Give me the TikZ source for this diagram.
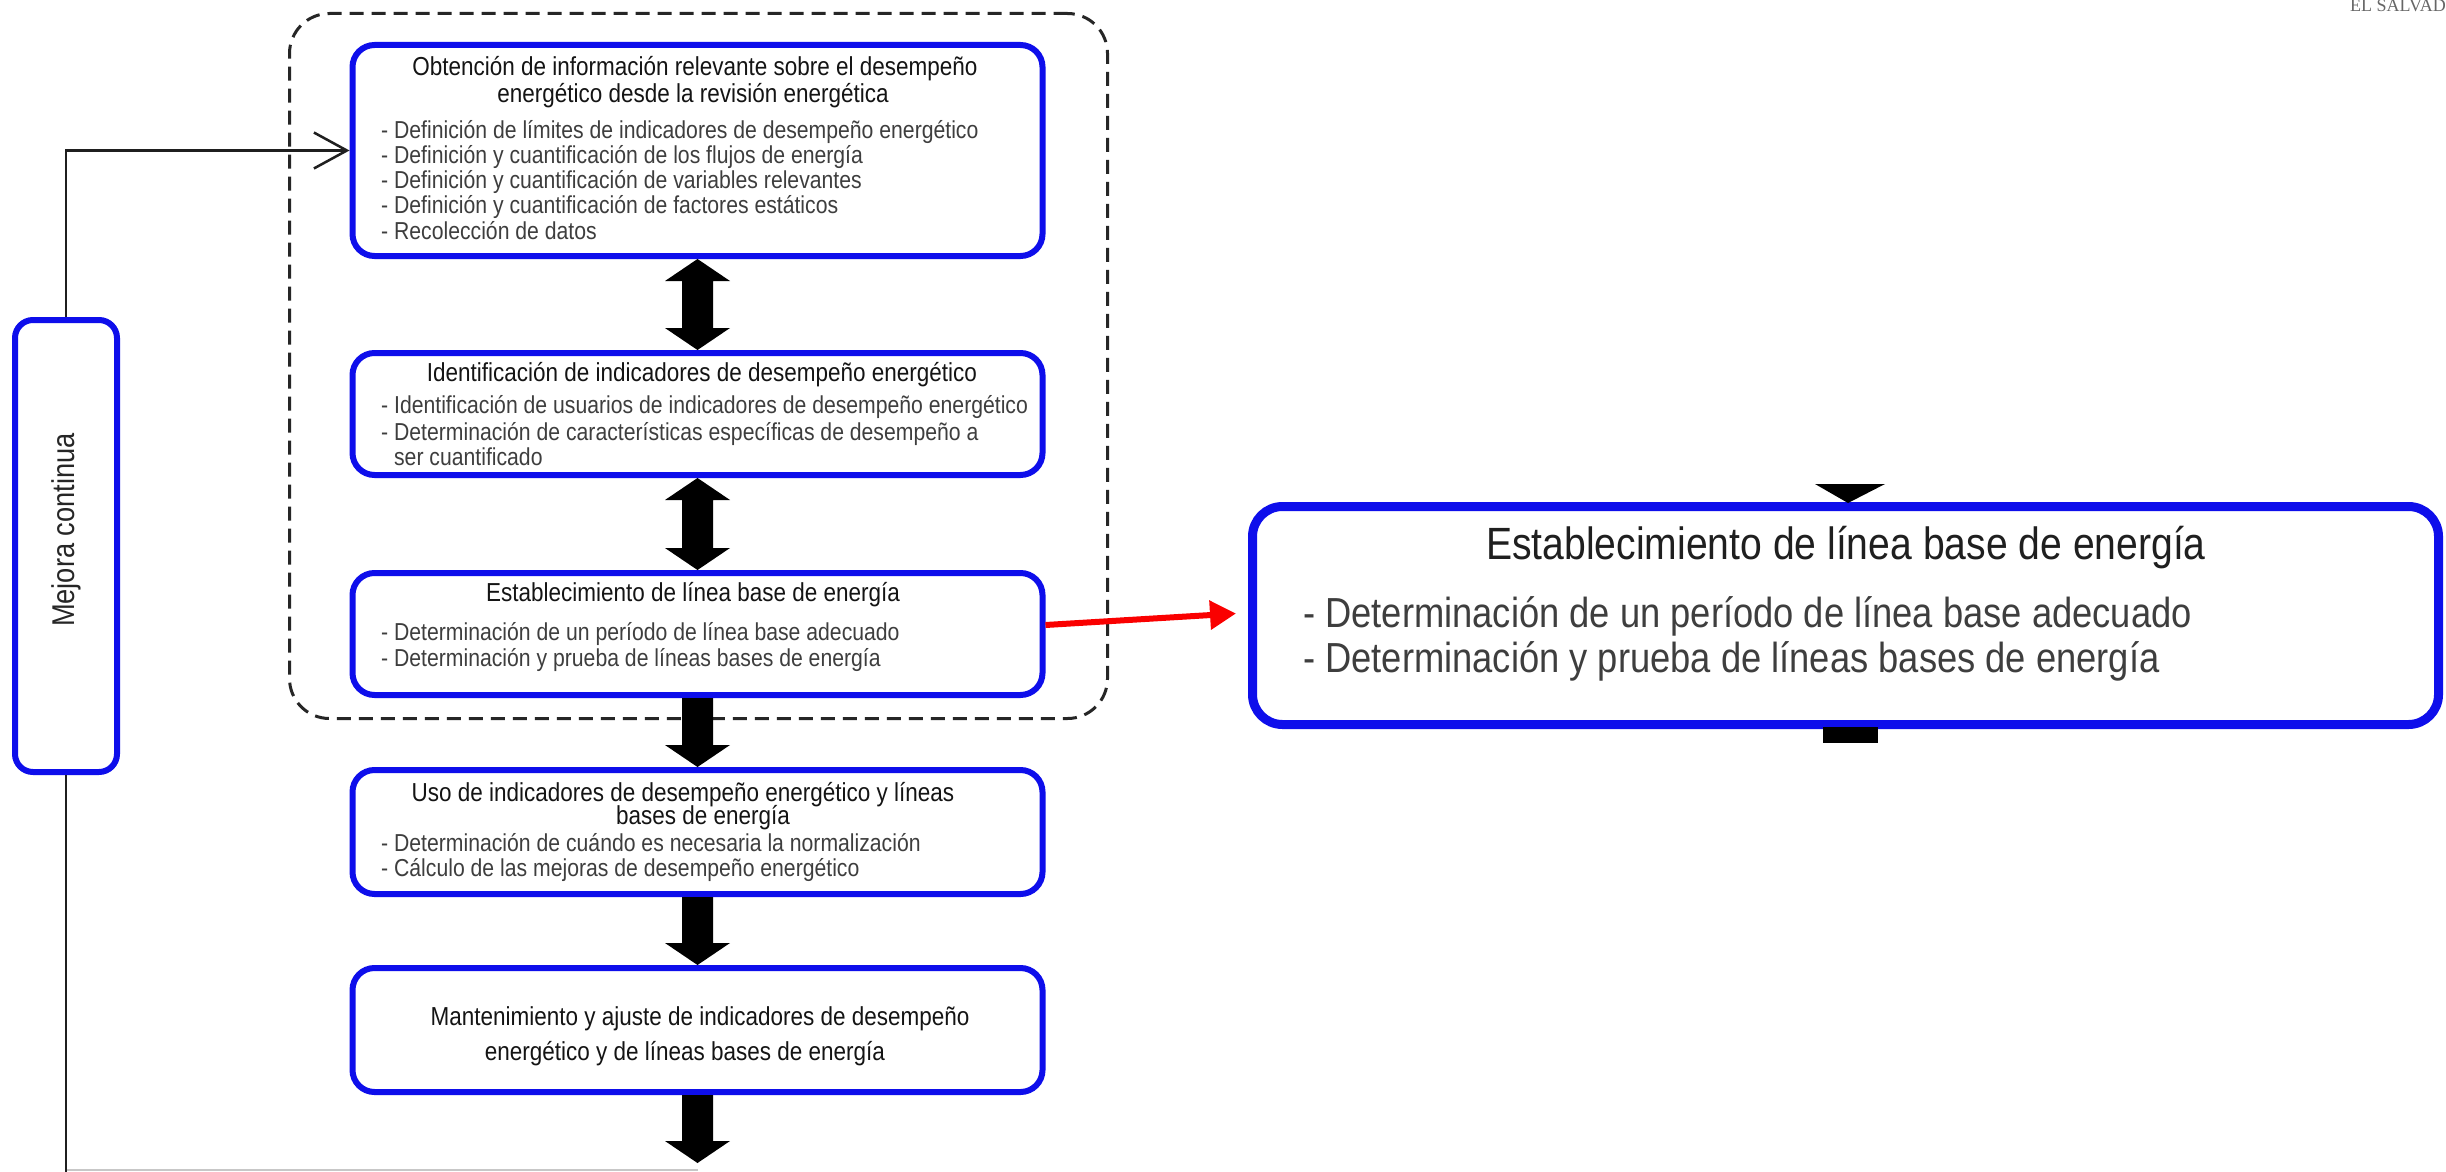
\documentclass[tikz,border=0pt]{standalone}
\usepackage{fontspec}
\setmainfont{Liberation Sans}[FakeStretch=0.865]
\newfontfamily\elfont{Liberation Serif}
\usetikzlibrary{arrows.meta,calc}
\definecolor{boxblue}{RGB}{14,14,235}
\definecolor{bultxt}{RGB}{62,62,62}
\definecolor{redarr}{RGB}{250,0,0}
\newcommand\dblblock[2]{%
  \fill[black] let \p1=(#1.south), \p2=(#2.north) in
   (\x1,\y1) -- (\x1+32.5pt,\y1-22pt) -- (\x1+15.5pt,\y1-22pt) -- (\x1+15.5pt,\y2+22pt)
   -- (\x1+32.5pt,\y2+22pt) -- (\x1,\y2) -- (\x1-32.5pt,\y2+22pt) -- (\x1-15.5pt,\y2+22pt)
   -- (\x1-15.5pt,\y1-22pt) -- (\x1-32.5pt,\y1-22pt) -- cycle;}
\newcommand\oneblock[2]{%
  \fill[black] let \p1=(#1), \p2=(#2) in
   (\x1-15.5pt,\y1) -- (\x1+15.5pt,\y1) -- (\x1+15.5pt,\y2+22pt) -- (\x1+32.5pt,\y2+22pt)
   -- (\x1,\y2) -- (\x1-32.5pt,\y2+22pt) -- (\x1-15.5pt,\y2+22pt) -- cycle;}
\begin{document}
\begin{tikzpicture}[x=1pt,y=-1pt,
  stepbox/.style={draw=boxblue, line width=6pt, rounded corners=22pt, minimum width=690pt, inner sep=0pt, fill=white},
  ttl/.style={inner sep=0pt, anchor=base, font=\fontsize{26}{28}\selectfont, text=black!92},
  bul/.style={inner sep=0pt, anchor=base west, font=\fontsize{24.5}{26}\selectfont, text=bultxt},
  bigttl/.style={inner sep=0pt, anchor=base, font=\fontsize{45.2}{47}\selectfont, text=black!88},
  bigbul/.style={inner sep=0pt, anchor=base west, font=\fontsize{42}{44}\selectfont, text=bultxt},
  conn/.style={draw=black!88, line width=2.5pt},
]
\useasboundingbox (0,0) rectangle (2446,1172);
\fill[white] (0,0) rectangle (2446,1172);

% dashed group
\node[draw=black!85, line width=3pt, dash pattern=on 14pt off 8pt, rounded corners=40pt,
      minimum width=818pt, minimum height=705pt, inner sep=0pt] (grp) at (698.5,366) {};

% boxes
\node[stepbox, minimum height=211pt] (b1) at (697.5,150.5) {};
\node[stepbox, minimum height=122pt] (b2) at (697.5,414) {};
\node[stepbox, minimum height=122pt] (b3) at (697.5,634) {};
\node[stepbox, minimum height=124pt] (b4) at (697.5,832) {};
\node[stepbox, minimum height=124pt] (b5) at (697.5,1030) {};

% Mejora continua
\node[draw=boxblue, line width=6pt, rounded corners=18pt, minimum width=102pt, minimum height=452pt,
      inner sep=0pt, fill=white] (mej) at (66,546) {};
\node[rotate=90, inner sep=0pt, font=\fontsize{31.5}{33}\selectfont, text=black!85] (mejt) at (66,530) {Mejora continua};

% texts box 1
\node[ttl] (t1a) at (695,75) {Obtención de información relevante sobre el desempeño};
\node[ttl] (t1b) at (693,102) {energético desde la revisión energética};
\node[bul] (t1c) at (381,138) {- Definición de límites de indicadores de desempeño energético};
\node[bul] (t1d) at (381,163) {- Definición y cuantificación de los flujos de energía};
\node[bul] (t1e) at (381,188) {- Definición y cuantificación de variables relevantes};
\node[bul] (t1f) at (381,213) {- Definición y cuantificación de factores estáticos};
\node[bul] (t1g) at (381,239) {- Recolección de datos};

% texts box 2
\node[ttl] (t2a) at (702,381) {Identificación de indicadores de desempeño energético};
\node[bul] (t2b) at (381,413) {- Identificación de usuarios de indicadores de desempeño energético};
\node[bul] (t2c) at (381,440) {- Determinación de características específicas de desempeño a};
\node[bul] (t2d) at (381,465) {\phantom{- }ser cuantificado};

% texts box 3
\node[ttl] (t3a) at (693,601) {Establecimiento de línea base de energía};
\node[bul] (t3b) at (381,640) {- Determinación de un período de línea base adecuado};
\node[bul] (t3c) at (381,666) {- Determinación y prueba de líneas bases de energía};

% texts box 4
\node[ttl] (t4a) at (683,801) {Uso de indicadores de desempeño energético y líneas};
\node[ttl] (t4b) at (703,824) {bases de energía};
\node[bul] (t4c) at (381,851) {- Determinación de cuándo es necesaria la normalización};
\node[bul] (t4d) at (381,876) {- Cálculo de las mejoras de desempeño energético};

% texts box 5
\node[ttl] (t5a) at (700,1025) {Mantenimiento y ajuste de indicadores de desempeño};
\node[ttl] (t5b) at (685,1060) {energético y de líneas bases de energía};

% block arrows
\dblblock{b1}{b2}
\dblblock{b2}{b3}
\oneblock{b3.south}{b4.north}
\oneblock{b4.south}{b5.north}
\coordinate (end5) at (697.5,1163);
\oneblock{b5.south}{end5}

% feedback loop
\coordinate (bot) at (66,1174);
\coordinate (bl) at (66,1170);
\draw[black!22, line width=1.5pt] (bl) -- (bl -| end5);
\draw[conn, -{Straight Barb[length=33pt,width=36pt]}] (mej.north) |- (b1.west);
\draw[conn] (mej.south) -- (bot);

% zoomed box
\node[draw=boxblue, line width=9pt, rounded corners=30pt, minimum width=1186pt, minimum height=218pt,
      inner sep=0pt, fill=white] (big) at (1845.5,615.5) {};
\fill[black] ($(big.north)+(-30.5,-18)$) -- ($(big.north)+(39.5,-18)$) -- ($(big.north)+(2.5,1)$) -- cycle;
\fill[black] ($(big.south)+(-22.5,-2)$) rectangle ($(big.south)+(32.5,14)$);
\node[bigttl] (bta) at (1846,559) {Establecimiento de línea base de energía};
\node[bigbul] (btb) at (1303,627) {- Determinación de un período de línea base adecuado};
\node[bigbul] (btc) at (1303,672) {- Determinación y prueba de líneas bases de energía};

% red arrow
\draw[draw=redarr, line width=6pt, -{Triangle[length=26pt,width=28pt]}]
  ($(b3.east)+(0,-9)$) -- ($(big.west)+(-12,-2)$);

% top-right fragment
\node[anchor=base west, inner sep=0pt, font=\elfont\fontsize{18}{18}\selectfont, text=black!60] (elsal) at (2350,12) {EL SALVADOR};
\end{tikzpicture}
\end{document}
